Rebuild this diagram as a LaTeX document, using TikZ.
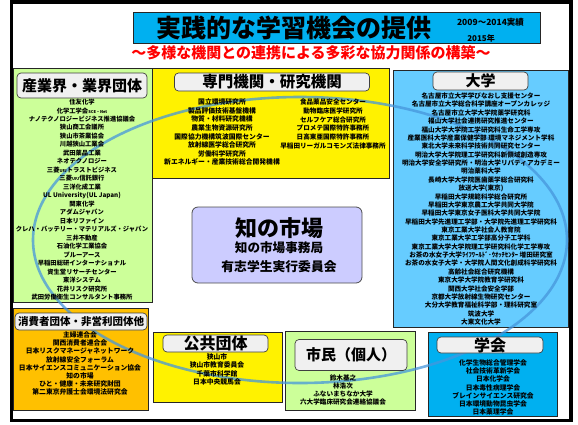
\documentclass[tikz,border=0pt]{standalone}
\usepackage{fontspec}
\setmainfont{Noto Sans CJK JP}
\usepackage{xcolor}
\usepackage{tikz}

\definecolor{titleblue}{RGB}{0,176,240}
\definecolor{unibl}{RGB}{102,204,255}
\definecolor{socbl}{RGB}{0,176,240}
\definecolor{ltgreen}{RGB}{204,255,153}
\definecolor{npoorange}{RGB}{255,192,0}
\definecolor{lavender}{RGB}{204,204,255}
\definecolor{ringblue}{RGB}{70,150,220}

\newcommand{\fs}[2]{\fontsize{#1}{#2}\selectfont}

\begin{document}
\begin{tikzpicture}[x=1pt,y=-1pt]
    % Define node styles
    \tikzstyle{panel} = [draw=black!85, line width=0.8pt]
    \tikzstyle{head} = [draw=black!75, line width=0.7pt, rounded corners=4pt, fill=gray!12, inner sep=0pt]
    \tikzstyle{list} = [align=center, inner sep=0pt, anchor=north]
    \tikzstyle{ring} = [draw=ringblue, line width=2.6pt, opacity=0.75]

    \useasboundingbox (0,0) rectangle (578,424);

    % Frame and coloured panels
    \draw[line width=3.5pt] (11.5,2) rectangle (571,420.5);
    \draw[panel, fill=titleblue] (133,12) rectangle (540,43);
    \draw[panel, fill=ltgreen] (13,68) rectangle (152,302);
    \draw[panel, fill=yellow] (152,68) rectangle (389,178);
    \draw[panel, fill=unibl] (393,70) rectangle (568,327);
    \draw[panel, fill=npoorange] (13,308) rectangle (148,410);
    \draw[panel, fill=yellow] (153,332) rectangle (282,402);
    \draw[panel, fill=ltgreen] (285,331) rectangle (415,410);
    \draw[panel, fill=socbl] (428,332) rectangle (557,416);

    % Ring of cooperation
    \draw[ring] (300,240) ellipse [x radius=267pt, y radius=143pt];

    % Title
    \node[inner sep=0pt, font=\bfseries\fs{25}{25}] (title) at (293.5,27.5) {実践的な学習機会の提供};
    \node[inner sep=0pt, font=\bfseries\fs{8.5}{8.5}] (years) at (490.5,22.5) {2009～2014実績};
    \node[inner sep=0pt, font=\bfseries\fs{8}{8}] (year) at (481,38.5) {2015年};
    \node[inner sep=0pt, red, font=\bfseries\fs{15}{15}] (sub) at (311,53) {～多様な機関との連携による多彩な協力関係の構築～};

    % Headers
    \node[head, minimum width=130pt, minimum height=25pt, font=\bfseries\fs{15}{15}] (indhead) at (82,85.5) {産業界・業界団体};
    \node[head, minimum width=195pt, minimum height=18pt, font=\bfseries\fs{15.5}{15.5}] (prohead) at (272,82) {専門機関・研究機関};
    \node[head, minimum width=95pt, minimum height=18pt, font=\bfseries\fs{15}{15}] (unihead) at (480.5,81) {大学};
    \node[head, minimum width=132pt, minimum height=17pt, font=\bfseries\fs{10.5}{10.5}] (npohead) at (81,321.5) {消費者団体・非営利団体他};
    \node[head, minimum width=105pt, minimum height=17pt, font=\bfseries\fs{16}{16}] (pubhead) at (215.5,343.5) {公共団体};
    \node[head, minimum width=112pt, minimum height=31pt, font=\bfseries\fs{15}{15}] (cithead) at (351,355) {市民（個人）};
    \node[head, minimum width=106pt, minimum height=16pt, font=\bfseries\fs{16}{16}] (sochead) at (490,345) {学会};

    % Lists
    \node[list, font=\bfseries\fs{6.3}{8.48}] (indlist) at (82,98.9) {住友化学\\化学工学会{\fs{4}{4}SCE・Net}\\ナノテクノロジービジネス推進協議会\\狭山商工会議所\\狭山市茶業協会\\川越狭山工業会\\武田薬品工業\\ネオテクノロジー\\三菱{\fs{4}{4}UFJ}トラストビジネス\\三菱{\fs{4}{4}UFJ}信託銀行\\三洋化成工業\\UL University(UL Japan)\\関東化学\\アダムジャパン\\日本リファイン\\クレハ・バッテリー・マテリアルズ・ジャパン\\三井不動産\\石油化学工業協会\\ブルーアース\\早稲田総研インターナショナル\\資生堂リサーチセンター\\東洋システム\\花井リスク研究所\\武田労働衛生コンサルタント事務所};
    \node[list, font=\bfseries\fs{6.8}{8.6}] (prolist) at (222,98.6) {国立環境研究所\\製品評価技術基盤機構\\物質・材料研究機構\\農業生物資源研究所\\国際協力機構筑波国際センター\\放射線医学総合研究所\\労働科学研究所\\新エネルギー・産業技術総合開発機構};
    \node[list, font=\bfseries\fs{6.6}{8.8}] (prolist2) at (333,98.7) {食品薬品安全センター\\動物臨床医学研究所\\セルフケア総合研究所\\プロメテ国際特許事務所\\日高東亜国際特許事務所\\早稲田リーガルコモンズ法律事務所};
    \node[list, font=\bfseries\fs{6.6}{8.37}] (unilist) at (481,92.7) {名古屋市立大学学びなおし支援センター\\名古屋市立大学総合科学講座オープンカレッジ\\名古屋市立大学大学院薬学研究科\\福山大学社会連携研究推進センター\\福山大学大学院工学研究科生命工学専攻\\産業医科大学産業保健学部 環境マネジメント学科\\東北大学未来科学技術共同研究センター\\明治大学大学院理工学研究科新領域創造専攻\\明治大学安全学研究所・明治大学リバティアカデミー\\明治薬科大学\\長崎大学大学院医歯薬学総合研究科\\放送大学(東京)\\早稲田大学規範科学総合研究所\\早稲田大学東京農工大学共同大学院\\早稲田大学東京女子医科大学共同大学院\\早稲田大学先進理工学部・大学院先進理工学研究科\\東京工業大学社会人教育院\\東京工業大学工学部高分子工学科\\東京工業大学大学院理工学研究科化学工学専攻\\お茶の水女子大学ﾗｲﾌﾜｰﾙﾄﾞ･ｳｵｯﾁｾﾝﾀｰ 増田研究室\\お茶の水女子大学・大学院人間文化創成科学研究科\\高齢社会総合研究機構\\東京大学大学院教育学研究科\\関西大学社会安全学部\\京都大学放射線生物研究センター\\大分大学教育福祉科学部・理科研究室\\筑波大学\\大東文化大学};
    \node[list, font=\bfseries\fs{6.8}{8.15}] (npolist) at (80,331.6) {主婦連合会\\関西消費者連合会\\日本リスクマネージャネットワーク\\放射線安全フォーラム\\日本サイエンスコミュニケーション協会\\知の市場\\ひと・健康・未来研究財団\\第二東京弁護士会環境法研究会};
    \node[list, font=\bfseries\fs{6.8}{8.3}] (publist) at (217,353.6) {狭山市\\狭山市教育委員会\\千葉市科学館\\日本中央競馬会};
    \node[list, font=\bfseries\fs{6.6}{8}] (citlist) at (343,374.7) {鈴木基之\\林浩次\\ふないまちなか大学\\六大学臨床研究会連絡協議会};
    \node[list, font=\bfseries\fs{6.8}{8.15}] (soclist) at (493,359.6) {化学生物総合管理学会\\社会技術革新学会\\日本化学会\\日本毒性病理学会\\ブレインサイエンス研究会\\日本環境動物昆虫学会\\日本薬理学会};

    % Centre
    \node[draw=black!70, line width=0.8pt, fill=lavender, rounded corners=6pt, minimum width=170pt, minimum height=76pt] (market) at (277,245) {};
    \node[inner sep=0pt, font=\bfseries\fs{22}{22}] (mk) at (279,228) {知の市場};
    \node[inner sep=0pt, font=\bfseries\fs{12.6}{12.6}] (mkoffice) at (279,248) {知の市場事務局};
    \node[inner sep=0pt, font=\bfseries\fs{12.8}{12.8}] (mkcomm) at (279,267) {有志学生実行委員会};
\end{tikzpicture}
\end{document}
